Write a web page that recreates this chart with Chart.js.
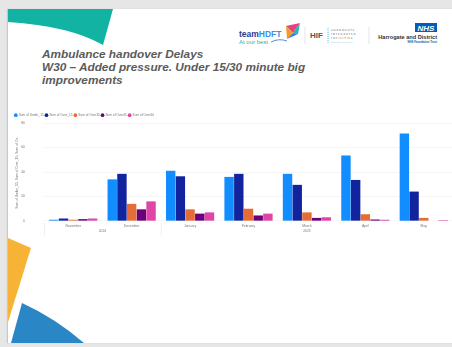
<!DOCTYPE html>
<html>
<head>
<meta charset="utf-8">
<script src="https://cdn.jsdelivr.net/npm/chart.js@4"></script>
<style>
  html, body { margin: 0; padding: 0; }
  body { width: 452px; height: 347px; background: #e6e6e6; position: relative; overflow: hidden; font-family: "Liberation Sans", Arial, sans-serif; }
  #slide { position: absolute; left: 8px; top: 9px; width: 450px; height: 334px; background: #fff; box-shadow: -1px 0 1px #c8c8c8; }
  #deco { position: absolute; left: 0; top: 0; }
  #title { position: absolute; left: 42px; top: 48px; font-weight: bold; font-style: italic; font-size: 11.8px; line-height: 13px; color: #5b5b5b; }
  #wrap { position: absolute; left: 8px; top: 102px; width: 447px; height: 140px; }
</style>
</head>
<body>
<div id="slide"></div>
<svg id="deco" width="452" height="347">
  <path d="M8,9 L113,9 L103,45 Q70,26 8,22 Z" fill="#12b3a3"/>
  <path d="M8,238 L31,248 L8,322 Z" fill="#f6b336"/>
  <path d="M22,303 Q55,318 84,343 L11,343 Z" fill="#2b86c6"/>
  <!-- logos -->
  <text x="239" y="37" font-family="Liberation Sans" font-weight="bold" font-size="8.5" fill="#2a3b8f">team<tspan fill="#3a8fe8">HDFT</tspan></text>
  <text x="239" y="44" font-family="Liberation Sans" font-size="6" fill="#22b5ad">At our best</text>
  <path d="M271,42 q8,-4 16,-1" stroke="#3a6fc0" stroke-width="0.8" fill="none"/>
  <path d="M286,26 L300,23 L293,33 Z" fill="#e4437f"/>
  <path d="M286,26 L293,33 L287,39 Z" fill="#f39a2a"/>
  <path d="M293,33 L300,23 L298,34 Z" fill="#2bb5ae"/>
  <path d="M287,39 L293,33 L298,34 Z" fill="#3c78d8"/>
  <line x1="305" y1="27" x2="305" y2="44" stroke="#ddd" stroke-width="0.8"/>
  <text x="310" y="38" font-family="Liberation Sans" font-weight="bold" font-size="8" fill="#555">HIF</text>
  <line x1="328" y1="28" x2="328" y2="43" stroke="#5ab8e0" stroke-width="1" stroke-dasharray="1,1"/>
  <text x="331" y="31" font-family="DejaVu Sans" font-size="2.6" letter-spacing="0.9" fill="#666">HARROGATE</text>
  <text x="331" y="35" font-family="DejaVu Sans" font-size="2.6" letter-spacing="0.9" fill="#666">INTEGRATED</text>
  <text x="331" y="39" font-family="DejaVu Sans" font-size="2.6" letter-spacing="0.9" fill="#666">FACILITIES</text>
  <text x="331" y="43" font-family="DejaVu Sans" font-size="1.6" fill="#5ab8e0">Taking Pride in our Services</text>
  <line x1="369" y1="27" x2="369" y2="44" stroke="#ddd" stroke-width="0.8"/>
  <rect x="415" y="23" width="22" height="9" fill="#005eb8"/>
  <text x="426" y="30.5" text-anchor="middle" font-family="Liberation Sans" font-weight="bold" font-style="italic" font-size="8" fill="#fff">NHS</text>
  <text x="437" y="38.5" text-anchor="end" font-family="Liberation Sans" font-weight="bold" font-size="5.6" fill="#333">Harrogate and District</text>
  <text x="437" y="43" text-anchor="end" font-family="Liberation Sans" font-weight="bold" font-size="2.8" fill="#005eb8">NHS Foundation Trust</text>
</svg>
<div id="title">Ambulance handover Delays<br>W30 – Added pressure. Under 15/30 minute big<br>improvements</div>
<div id="wrap"><canvas id="myChart"></canvas></div>
<script>
const months = ['November', 'December', 'January', 'February', 'March', 'April', 'May'];
const years = ['2024', '2024', '2025', '2025', '2025', '2025', '2025'];
const yTicks = [0, 20, 40, 60, 80];

const under_15 = [1, 34, 41, 36, 38.5, 53.5, 71.5];
const over_15 = [2, 38.5, 36.5, 38.5, 29.5, 33.5, 24];
const over_30 = [1, 14, 9.5, 10, 7, 5.5, 2.5];
const over_45 = [1.5, 9.5, 6, 4.5, 2.5, 1.2, 0];
const over_60 = [2, 16, 7, 6, 3, 1, 0.7];

const seriesNames = ['Sum of Under_15', 'Sum of Over_15', 'Sum of Over30', 'Sum of Over45', 'Sum of Over60'];
const seriesColors = ['#118DFF', '#12239E', '#E66C37', '#6B007B', '#E044A7'];

// second row of the x axis: years, with separator lines between year groups
const yearRow = {
    id: 'yearRow',
    afterDraw(chart)
    {
        const ctx = chart.ctx;
        const x = chart.scales.x;
        const top = chart.chartArea.bottom;
        const half = (x.getPixelForValue(1) - x.getPixelForValue(0)) / 2;
        ctx.save();
        ctx.strokeStyle = '#e4e4e4';
        ctx.lineWidth = 0.6;
        ctx.fillStyle = '#777';
        ctx.font = '3.4px "Liberation Sans"';
        ctx.textAlign = 'center';
        ctx.textBaseline = 'middle';
        let start = 0;
        for (let i = 1; i <= years.length; i += 1)
        {
            if (i === years.length || years[i] !== years[start])
            {
                const x0 = x.getPixelForValue(start) - half;
                const x1 = x.getPixelForValue(i - 1) + half;
                ctx.beginPath();
                ctx.moveTo(x0 + 0.5, top + 2);
                ctx.lineTo(x0 + 0.5, top + 15);
                ctx.stroke();
                ctx.fillText(years[start], (x0 + x1) / 2, top + 10);
                start = i;
            }
        }
        ctx.restore();
    }
};

const datasets = [under_15, over_15, over_30, over_45, over_60].map(function (vals, i) {
    return {
        label: seriesNames[i],
        data: vals,
        backgroundColor: seriesColors[i],
        borderWidth: 0,
        barPercentage: 0.97,
        categoryPercentage: 0.83
    };
});

const ctx = document.getElementById('myChart').getContext('2d');
const myChart = new Chart(ctx, {
    type: 'bar',
    data: { labels: months, datasets: datasets },
    plugins: [yearRow],
    options: {
        responsive: true,
        maintainAspectRatio: false,
        animation: false,
        layout: { padding: { top: 0, right: 2, bottom: 0, left: 5 } },
        plugins: {
            legend: {
                position: 'top',
                align: 'start',
                maxHeight: 11,
                labels: {
                    usePointStyle: true,
                    pointStyle: 'circle',
                    boxWidth: 2.6,
                    boxHeight: 2.6,
                    padding: 1.5,
                    color: '#777',
                    font: { size: 3.2, family: 'Liberation Sans' }
                }
            },
            tooltip: { enabled: false }
        },
        scales: {
            x: {
                grid: { display: false, drawTicks: false },
                border: { display: false },
                ticks: { color: '#777', font: { size: 3.4, family: 'Liberation Sans' }, padding: 3, maxRotation: 0 },
                afterFit: function (s) { s.height = 16; }
            },
            y: {
                min: 0,
                max: 80,
                afterBuildTicks: function (s) { s.ticks = yTicks.map(function (v) { return { value: v }; }); },
                grid: { color: '#f0f0f0', lineWidth: 0.6, drawTicks: false },
                border: { display: false },
                ticks: { color: '#777', font: { size: 3.4, family: 'Liberation Sans' }, padding: 19 },
                title: {
                    display: true,
                    text: 'Sum of Under_15, Sum of Over_15, Sum of Ov...',
                    color: '#777',
                    font: { size: 3.4, family: 'Liberation Sans' },
                    padding: { top: 2, bottom: 0 }
                },
                afterFit: function (s) { s.width = 31; }
            }
        }
    }
});
</script>
</body>
</html>
